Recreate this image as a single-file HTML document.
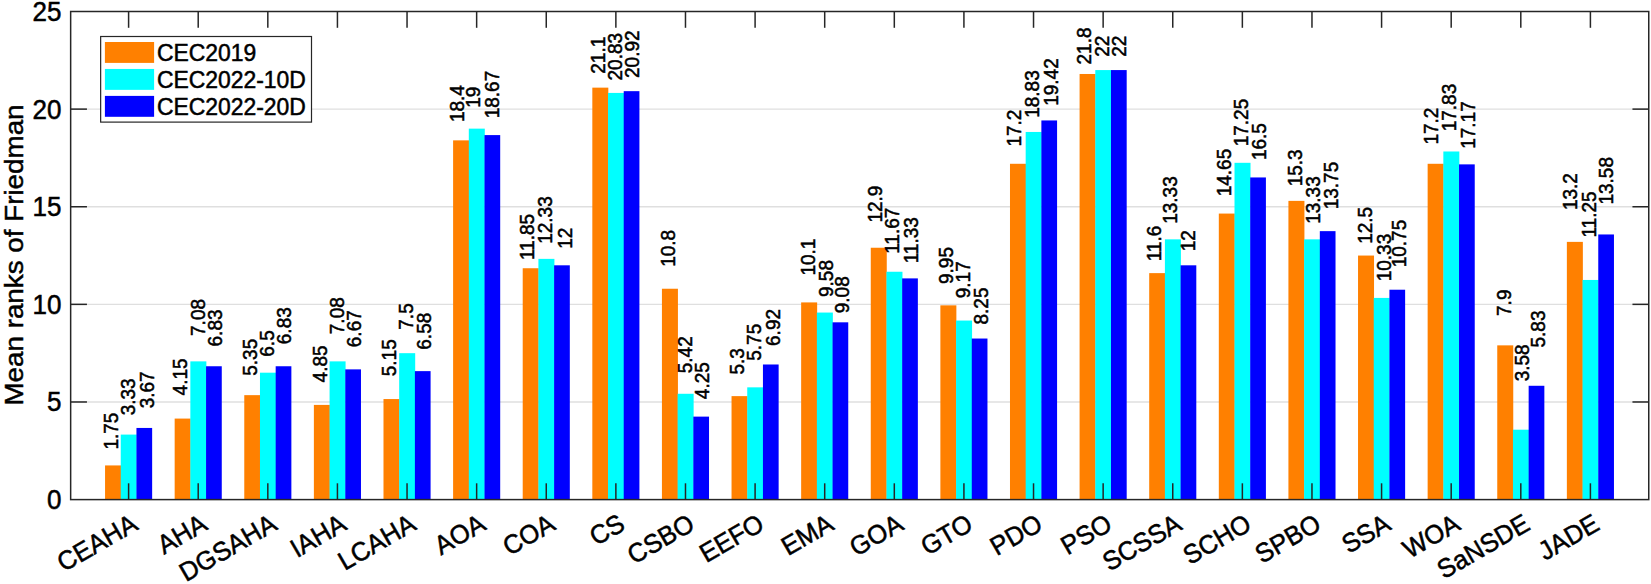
<!DOCTYPE html>
<html lang="en"><head><meta charset="utf-8"><title>Mean ranks of Friedman</title>
<style>html,body{margin:0;padding:0;background:#fff}body{width:1651px;height:584px;overflow:hidden}svg{display:block}text{font-family:"Liberation Sans",Arial,Helvetica,sans-serif;fill:#000;stroke:#000;stroke-width:0.5px}.v{font-size:19.0px}.xt{font-size:25.3px;text-anchor:end}.yt{font-size:26.0px;text-anchor:end}.lg{font-size:22.9px}.yl{font-size:27.8px;text-anchor:middle}</style></head><body>
<svg width="1651" height="584" viewBox="0 0 1651 584">
<rect width="1651" height="584" fill="#fff"/>
<g stroke="#dfdfdf" stroke-width="1.3">
<line x1="70.65" y1="401.98" x2="1648.75" y2="401.98"/>
<line x1="70.65" y1="304.36" x2="1648.75" y2="304.36"/>
<line x1="70.65" y1="206.74" x2="1648.75" y2="206.74"/>
<line x1="70.65" y1="109.12" x2="1648.75" y2="109.12"/>
</g>
<rect x="105.05" y="465.43" width="16" height="34.17" fill="#FF8000"/>
<rect x="120.75" y="434.59" width="16" height="65.01" fill="#00FFFF"/>
<rect x="136.45" y="427.95" width="15.7" height="71.65" fill="#0000FF"/>
<rect x="174.66" y="418.58" width="16" height="81.02" fill="#FF8000"/>
<rect x="190.36" y="361.37" width="16" height="138.23" fill="#00FFFF"/>
<rect x="206.06" y="366.25" width="15.7" height="133.35" fill="#0000FF"/>
<rect x="244.27" y="395.15" width="16" height="104.45" fill="#FF8000"/>
<rect x="259.97" y="372.69" width="16" height="126.91" fill="#00FFFF"/>
<rect x="275.67" y="366.25" width="15.7" height="133.35" fill="#0000FF"/>
<rect x="313.88" y="404.91" width="16" height="94.69" fill="#FF8000"/>
<rect x="329.58" y="361.37" width="16" height="138.23" fill="#00FFFF"/>
<rect x="345.28" y="369.37" width="15.7" height="130.23" fill="#0000FF"/>
<rect x="383.49" y="399.05" width="16" height="100.55" fill="#FF8000"/>
<rect x="399.19" y="353.17" width="16" height="146.43" fill="#00FFFF"/>
<rect x="414.89" y="371.13" width="15.7" height="128.47" fill="#0000FF"/>
<rect x="453.1" y="140.36" width="16" height="359.24" fill="#FF8000"/>
<rect x="468.8" y="128.64" width="16" height="370.96" fill="#00FFFF"/>
<rect x="484.5" y="135.09" width="15.7" height="364.51" fill="#0000FF"/>
<rect x="522.71" y="268.24" width="16" height="231.36" fill="#FF8000"/>
<rect x="538.41" y="258.87" width="16" height="240.73" fill="#00FFFF"/>
<rect x="554.11" y="265.31" width="15.7" height="234.29" fill="#0000FF"/>
<rect x="592.32" y="87.64" width="16" height="411.96" fill="#FF8000"/>
<rect x="608.02" y="92.92" width="16" height="406.68" fill="#00FFFF"/>
<rect x="623.72" y="91.16" width="15.7" height="408.44" fill="#0000FF"/>
<rect x="661.93" y="288.74" width="16" height="210.86" fill="#FF8000"/>
<rect x="677.63" y="393.78" width="16" height="105.82" fill="#00FFFF"/>
<rect x="693.33" y="416.62" width="15.7" height="82.98" fill="#0000FF"/>
<rect x="731.54" y="396.12" width="16" height="103.48" fill="#FF8000"/>
<rect x="747.24" y="387.34" width="16" height="112.26" fill="#00FFFF"/>
<rect x="762.94" y="364.49" width="15.7" height="135.11" fill="#0000FF"/>
<rect x="801.15" y="302.41" width="16" height="197.19" fill="#FF8000"/>
<rect x="816.85" y="312.56" width="16" height="187.04" fill="#00FFFF"/>
<rect x="832.55" y="322.32" width="15.7" height="177.28" fill="#0000FF"/>
<rect x="870.76" y="247.74" width="16" height="251.86" fill="#FF8000"/>
<rect x="886.46" y="271.75" width="16" height="227.85" fill="#00FFFF"/>
<rect x="902.16" y="278.39" width="15.7" height="221.21" fill="#0000FF"/>
<rect x="940.37" y="305.34" width="16" height="194.26" fill="#FF8000"/>
<rect x="956.07" y="320.56" width="16" height="179.04" fill="#00FFFF"/>
<rect x="971.77" y="338.53" width="15.7" height="161.07" fill="#0000FF"/>
<rect x="1009.98" y="163.79" width="16" height="335.81" fill="#FF8000"/>
<rect x="1025.68" y="131.96" width="16" height="367.64" fill="#00FFFF"/>
<rect x="1041.38" y="120.44" width="15.7" height="379.16" fill="#0000FF"/>
<rect x="1079.59" y="73.98" width="16" height="425.62" fill="#FF8000"/>
<rect x="1095.29" y="70.07" width="16" height="429.53" fill="#00FFFF"/>
<rect x="1110.99" y="70.07" width="15.7" height="429.53" fill="#0000FF"/>
<rect x="1149.2" y="273.12" width="16" height="226.48" fill="#FF8000"/>
<rect x="1164.9" y="239.35" width="16" height="260.25" fill="#00FFFF"/>
<rect x="1180.6" y="265.31" width="15.7" height="234.29" fill="#0000FF"/>
<rect x="1218.81" y="213.57" width="16" height="286.03" fill="#FF8000"/>
<rect x="1234.51" y="162.81" width="16" height="336.79" fill="#00FFFF"/>
<rect x="1250.21" y="177.45" width="15.7" height="322.15" fill="#0000FF"/>
<rect x="1288.42" y="200.88" width="16" height="298.72" fill="#FF8000"/>
<rect x="1304.12" y="239.35" width="16" height="260.25" fill="#00FFFF"/>
<rect x="1319.82" y="231.14" width="15.7" height="268.46" fill="#0000FF"/>
<rect x="1358.03" y="255.55" width="16" height="244.05" fill="#FF8000"/>
<rect x="1373.73" y="297.92" width="16" height="201.68" fill="#00FFFF"/>
<rect x="1389.43" y="289.72" width="15.7" height="209.88" fill="#0000FF"/>
<rect x="1427.64" y="163.79" width="16" height="335.81" fill="#FF8000"/>
<rect x="1443.34" y="151.49" width="16" height="348.11" fill="#00FFFF"/>
<rect x="1459.04" y="164.37" width="15.7" height="335.23" fill="#0000FF"/>
<rect x="1497.25" y="345.36" width="16" height="154.24" fill="#FF8000"/>
<rect x="1512.95" y="429.7" width="16" height="69.9" fill="#00FFFF"/>
<rect x="1528.65" y="385.78" width="15.7" height="113.82" fill="#0000FF"/>
<rect x="1566.86" y="241.88" width="16" height="257.72" fill="#FF8000"/>
<rect x="1582.56" y="279.96" width="16" height="219.65" fill="#00FFFF"/>
<rect x="1598.26" y="234.46" width="15.7" height="265.14" fill="#0000FF"/>
<g stroke="#262626" stroke-width="1.5" fill="none">
<rect x="70.65" y="11.5" width="1578.1" height="488.1"/>
<line x1="128.6" y1="499.6" x2="128.6" y2="483.3"/>
<line x1="128.6" y1="11.5" x2="128.6" y2="27.8"/>
<line x1="198.21" y1="499.6" x2="198.21" y2="483.3"/>
<line x1="198.21" y1="11.5" x2="198.21" y2="27.8"/>
<line x1="267.82" y1="499.6" x2="267.82" y2="483.3"/>
<line x1="267.82" y1="11.5" x2="267.82" y2="27.8"/>
<line x1="337.43" y1="499.6" x2="337.43" y2="483.3"/>
<line x1="337.43" y1="11.5" x2="337.43" y2="27.8"/>
<line x1="407.04" y1="499.6" x2="407.04" y2="483.3"/>
<line x1="407.04" y1="11.5" x2="407.04" y2="27.8"/>
<line x1="476.65" y1="499.6" x2="476.65" y2="483.3"/>
<line x1="476.65" y1="11.5" x2="476.65" y2="27.8"/>
<line x1="546.26" y1="499.6" x2="546.26" y2="483.3"/>
<line x1="546.26" y1="11.5" x2="546.26" y2="27.8"/>
<line x1="615.87" y1="499.6" x2="615.87" y2="483.3"/>
<line x1="615.87" y1="11.5" x2="615.87" y2="27.8"/>
<line x1="685.48" y1="499.6" x2="685.48" y2="483.3"/>
<line x1="685.48" y1="11.5" x2="685.48" y2="27.8"/>
<line x1="755.09" y1="499.6" x2="755.09" y2="483.3"/>
<line x1="755.09" y1="11.5" x2="755.09" y2="27.8"/>
<line x1="824.7" y1="499.6" x2="824.7" y2="483.3"/>
<line x1="824.7" y1="11.5" x2="824.7" y2="27.8"/>
<line x1="894.31" y1="499.6" x2="894.31" y2="483.3"/>
<line x1="894.31" y1="11.5" x2="894.31" y2="27.8"/>
<line x1="963.92" y1="499.6" x2="963.92" y2="483.3"/>
<line x1="963.92" y1="11.5" x2="963.92" y2="27.8"/>
<line x1="1033.53" y1="499.6" x2="1033.53" y2="483.3"/>
<line x1="1033.53" y1="11.5" x2="1033.53" y2="27.8"/>
<line x1="1103.14" y1="499.6" x2="1103.14" y2="483.3"/>
<line x1="1103.14" y1="11.5" x2="1103.14" y2="27.8"/>
<line x1="1172.75" y1="499.6" x2="1172.75" y2="483.3"/>
<line x1="1172.75" y1="11.5" x2="1172.75" y2="27.8"/>
<line x1="1242.36" y1="499.6" x2="1242.36" y2="483.3"/>
<line x1="1242.36" y1="11.5" x2="1242.36" y2="27.8"/>
<line x1="1311.97" y1="499.6" x2="1311.97" y2="483.3"/>
<line x1="1311.97" y1="11.5" x2="1311.97" y2="27.8"/>
<line x1="1381.58" y1="499.6" x2="1381.58" y2="483.3"/>
<line x1="1381.58" y1="11.5" x2="1381.58" y2="27.8"/>
<line x1="1451.19" y1="499.6" x2="1451.19" y2="483.3"/>
<line x1="1451.19" y1="11.5" x2="1451.19" y2="27.8"/>
<line x1="1520.8" y1="499.6" x2="1520.8" y2="483.3"/>
<line x1="1520.8" y1="11.5" x2="1520.8" y2="27.8"/>
<line x1="1590.41" y1="499.6" x2="1590.41" y2="483.3"/>
<line x1="1590.41" y1="11.5" x2="1590.41" y2="27.8"/>
<line x1="70.65" y1="401.98" x2="86.95" y2="401.98"/>
<line x1="1648.75" y1="401.98" x2="1632.45" y2="401.98"/>
<line x1="70.65" y1="304.36" x2="86.95" y2="304.36"/>
<line x1="1648.75" y1="304.36" x2="1632.45" y2="304.36"/>
<line x1="70.65" y1="206.74" x2="86.95" y2="206.74"/>
<line x1="1648.75" y1="206.74" x2="1632.45" y2="206.74"/>
<line x1="70.65" y1="109.12" x2="86.95" y2="109.12"/>
<line x1="1648.75" y1="109.12" x2="1632.45" y2="109.12"/>
</g>
<text class="yt" transform="translate(61.5,509.01) scale(1,1.04)">0</text>
<text class="yt" transform="translate(61.5,411.39) scale(1,1.04)">5</text>
<text class="yt" transform="translate(61.5,313.77) scale(1,1.04)">10</text>
<text class="yt" transform="translate(61.5,216.15) scale(1,1.04)">15</text>
<text class="yt" transform="translate(61.5,118.53) scale(1,1.04)">20</text>
<text class="yt" transform="translate(61.5,20.91) scale(1,1.04)">25</text>
<text class="yl" transform="translate(22.9,255) rotate(-90) scale(1,0.96)">Mean ranks of Friedman</text>
<text class="xt" transform="translate(139.3,528.8) rotate(-30) scale(1,1.04)">CEAHA</text>
<text class="xt" transform="translate(208.91,528.8) rotate(-30) scale(1,1.04)">AHA</text>
<text class="xt" transform="translate(278.52,528.8) rotate(-30) scale(1,1.04)">DGSAHA</text>
<text class="xt" transform="translate(348.13,528.8) rotate(-30) scale(1,1.04)">IAHA</text>
<text class="xt" transform="translate(417.74,528.8) rotate(-30) scale(1,1.04)">LCAHA</text>
<text class="xt" transform="translate(487.35,528.8) rotate(-30) scale(1,1.04)">AOA</text>
<text class="xt" transform="translate(556.96,528.8) rotate(-30) scale(1,1.04)">COA</text>
<text class="xt" transform="translate(626.57,528.8) rotate(-30) scale(1,1.04)">CS</text>
<text class="xt" transform="translate(696.18,528.8) rotate(-30) scale(1,1.04)">CSBO</text>
<text class="xt" transform="translate(765.79,528.8) rotate(-30) scale(1,1.04)">EEFO</text>
<text class="xt" transform="translate(835.4,528.8) rotate(-30) scale(1,1.04)">EMA</text>
<text class="xt" transform="translate(905.01,528.8) rotate(-30) scale(1,1.04)">GOA</text>
<text class="xt" transform="translate(974.62,528.8) rotate(-30) scale(1,1.04)">GTO</text>
<text class="xt" transform="translate(1044.23,528.8) rotate(-30) scale(1,1.04)">PDO</text>
<text class="xt" transform="translate(1113.84,528.8) rotate(-30) scale(1,1.04)">PSO</text>
<text class="xt" transform="translate(1183.45,528.8) rotate(-30) scale(1,1.04)">SCSSA</text>
<text class="xt" transform="translate(1253.06,528.8) rotate(-30) scale(1,1.04)">SCHO</text>
<text class="xt" transform="translate(1322.67,528.8) rotate(-30) scale(1,1.04)">SPBO</text>
<text class="xt" transform="translate(1392.28,528.8) rotate(-30) scale(1,1.04)">SSA</text>
<text class="xt" transform="translate(1461.89,528.8) rotate(-30) scale(1,1.04)">WOA</text>
<text class="xt" transform="translate(1531.5,528.8) rotate(-30) scale(1,1.04)">SaNSDE</text>
<text class="xt" transform="translate(1601.11,528.8) rotate(-30) scale(1,1.04)">JADE</text>
<text class="v" transform="translate(117.8,449.58) rotate(-90) scale(1,1.04)">1.75</text>
<text class="v" transform="translate(135.3,415.32) rotate(-90) scale(1,1.04)">3.33</text>
<text class="v" transform="translate(154.05,408.32) rotate(-90) scale(1,1.04)">3.67</text>
<text class="v" transform="translate(187.3,395.38) rotate(-90) scale(1,1.04)">4.15</text>
<text class="v" transform="translate(204.55,335.95) rotate(-90) scale(1,1.04)">7.08</text>
<text class="v" transform="translate(222.4,346.45) rotate(-90) scale(1,1.04)">6.83</text>
<text class="v" transform="translate(257.4,375.76) rotate(-90) scale(1,1.04)">5.35</text>
<text class="v" transform="translate(273.7,356.7) rotate(-90) scale(1,1.04)">6.5</text>
<text class="v" transform="translate(291.4,344.2) rotate(-90) scale(1,1.04)">6.83</text>
<text class="v" transform="translate(326.8,382.38) rotate(-90) scale(1,1.04)">4.85</text>
<text class="v" transform="translate(344.05,334.2) rotate(-90) scale(1,1.04)">7.08</text>
<text class="v" transform="translate(361.4,347.2) rotate(-90) scale(1,1.04)">6.67</text>
<text class="v" transform="translate(396.2,376.26) rotate(-90) scale(1,1.04)">5.15</text>
<text class="v" transform="translate(413.4,329.7) rotate(-90) scale(1,1.04)">7.5</text>
<text class="v" transform="translate(430.9,349.7) rotate(-90) scale(1,1.04)">6.58</text>
<text class="v" transform="translate(463.9,122.08) rotate(-90) scale(1,1.04)">18.4</text>
<text class="v" transform="translate(480.05,107.83) rotate(-90) scale(1,1.04)">19</text>
<text class="v" transform="translate(499.3,118.33) rotate(-90) scale(1,1.04)">18.67</text>
<text class="v" transform="translate(533.9,260.08) rotate(-90) scale(1,1.04)">11.85</text>
<text class="v" transform="translate(552.3,243.83) rotate(-90) scale(1,1.04)">12.33</text>
<text class="v" transform="translate(571.8,248.83) rotate(-90) scale(1,1.04)">12</text>
<text class="v" transform="translate(604.9,73.7) rotate(-90) scale(1,1.04)">21.1</text>
<text class="v" transform="translate(622.4,80.45) rotate(-90) scale(1,1.04)">20.83</text>
<text class="v" transform="translate(639.3,77.95) rotate(-90) scale(1,1.04)">20.92</text>
<text class="v" transform="translate(674.9,266.83) rotate(-90) scale(1,1.04)">10.8</text>
<text class="v" transform="translate(692.05,373.26) rotate(-90) scale(1,1.04)">5.42</text>
<text class="v" transform="translate(708.7,399.13) rotate(-90) scale(1,1.04)">4.25</text>
<text class="v" transform="translate(743.7,374.51) rotate(-90) scale(1,1.04)">5.3</text>
<text class="v" transform="translate(760.9,360.76) rotate(-90) scale(1,1.04)">5.75</text>
<text class="v" transform="translate(779.9,345.95) rotate(-90) scale(1,1.04)">6.92</text>
<text class="v" transform="translate(814.9,275.58) rotate(-90) scale(1,1.04)">10.1</text>
<text class="v" transform="translate(832.7,297.01) rotate(-90) scale(1,1.04)">9.58</text>
<text class="v" transform="translate(849.3,313.26) rotate(-90) scale(1,1.04)">9.08</text>
<text class="v" transform="translate(882.4,222.58) rotate(-90) scale(1,1.04)">12.9</text>
<text class="v" transform="translate(898.7,253.83) rotate(-90) scale(1,1.04)">11.67</text>
<text class="v" transform="translate(917.7,263.33) rotate(-90) scale(1,1.04)">11.33</text>
<text class="v" transform="translate(952.9,284.01) rotate(-90) scale(1,1.04)">9.95</text>
<text class="v" transform="translate(970.4,298.26) rotate(-90) scale(1,1.04)">9.17</text>
<text class="v" transform="translate(987.7,324.51) rotate(-90) scale(1,1.04)">8.25</text>
<text class="v" transform="translate(1021.2,146.58) rotate(-90) scale(1,1.04)">17.2</text>
<text class="v" transform="translate(1038.9,117.83) rotate(-90) scale(1,1.04)">18.83</text>
<text class="v" transform="translate(1057.7,105.83) rotate(-90) scale(1,1.04)">19.42</text>
<text class="v" transform="translate(1091.4,64.45) rotate(-90) scale(1,1.04)">21.8</text>
<text class="v" transform="translate(1108.7,56.7) rotate(-90) scale(1,1.04)">22</text>
<text class="v" transform="translate(1125.55,56.7) rotate(-90) scale(1,1.04)">22</text>
<text class="v" transform="translate(1160.9,261.33) rotate(-90) scale(1,1.04)">11.6</text>
<text class="v" transform="translate(1176.8,223.83) rotate(-90) scale(1,1.04)">13.33</text>
<text class="v" transform="translate(1194.9,251.33) rotate(-90) scale(1,1.04)">12</text>
<text class="v" transform="translate(1230.55,196.33) rotate(-90) scale(1,1.04)">14.65</text>
<text class="v" transform="translate(1248.2,146.33) rotate(-90) scale(1,1.04)">17.25</text>
<text class="v" transform="translate(1266.4,160.08) rotate(-90) scale(1,1.04)">16.5</text>
<text class="v" transform="translate(1301.8,186.33) rotate(-90) scale(1,1.04)">15.3</text>
<text class="v" transform="translate(1320.2,223.83) rotate(-90) scale(1,1.04)">13.33</text>
<text class="v" transform="translate(1338.2,209.33) rotate(-90) scale(1,1.04)">13.75</text>
<text class="v" transform="translate(1371.7,243.83) rotate(-90) scale(1,1.04)">12.5</text>
<text class="v" transform="translate(1391,281.33) rotate(-90) scale(1,1.04)">10.33</text>
<text class="v" transform="translate(1406.4,267.33) rotate(-90) scale(1,1.04)">10.75</text>
<text class="v" transform="translate(1437.7,144.58) rotate(-90) scale(1,1.04)">17.2</text>
<text class="v" transform="translate(1455.8,131.33) rotate(-90) scale(1,1.04)">17.83</text>
<text class="v" transform="translate(1474.7,148.83) rotate(-90) scale(1,1.04)">17.17</text>
<text class="v" transform="translate(1510.7,315.95) rotate(-90) scale(1,1.04)">7.9</text>
<text class="v" transform="translate(1529.2,381.32) rotate(-90) scale(1,1.04)">3.58</text>
<text class="v" transform="translate(1545.2,347.51) rotate(-90) scale(1,1.04)">5.83</text>
<text class="v" transform="translate(1577.2,210.08) rotate(-90) scale(1,1.04)">13.2</text>
<text class="v" transform="translate(1595.9,237.58) rotate(-90) scale(1,1.04)">11.25</text>
<text class="v" transform="translate(1612.9,204.58) rotate(-90) scale(1,1.04)">13.58</text>
<rect x="100.65" y="36.5" width="210.85" height="85.6" fill="#fff" stroke="#262626" stroke-width="1.2"/>
<rect x="104.9" y="42" width="49.2" height="20.9" fill="#FF8000"/>
<text class="lg" transform="translate(156.9,60.65) scale(1,1.04)">CEC2019</text>
<rect x="104.9" y="68.95" width="49.2" height="20.9" fill="#00FFFF"/>
<text class="lg" transform="translate(156.9,87.6) scale(1,1.04)">CEC2022-10D</text>
<rect x="104.9" y="95.9" width="49.2" height="20.9" fill="#0000FF"/>
<text class="lg" transform="translate(156.9,114.55) scale(1,1.04)">CEC2022-20D</text>
</svg></body></html>
